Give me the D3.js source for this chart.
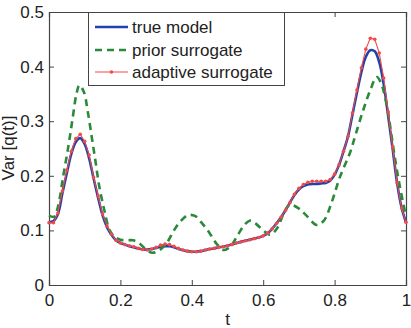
<!DOCTYPE html>
<html><head><meta charset="utf-8">
<script src="https://cdn.jsdelivr.net/npm/d3@7"></script>
<style>body{margin:0;background:#fff}svg text{font-family:"Liberation Sans",Arial,sans-serif;fill:#222}</style>
</head><body><svg id="c" width="411" height="328"></svg>
<script>
// t grid for true model & adaptive surrogate (step 0.0125, 81 points)
const tGrid = d3.range(81).map(i => i / 80);
const trueModel = [0.115,0.117,0.130,0.168,0.205,0.240,0.262,0.269,0.258,0.232,0.195,0.160,0.128,0.106,0.092,0.082,0.077,0.074,0.071,0.069,
0.067,0.065,0.065,0.066,0.068,0.070,0.071,0.071,0.069,0.066,0.064,0.062,0.061,0.061,0.062,0.064,0.066,0.067,0.069,0.070,
0.072,0.074,0.077,0.079,0.081,0.083,0.085,0.087,0.090,0.095,0.103,0.113,0.124,0.137,0.151,0.165,0.175,0.181,0.184,0.185,
0.185,0.186,0.187,0.191,0.202,0.220,0.245,0.272,0.312,0.352,0.390,0.418,0.430,0.428,0.408,0.368,0.310,0.250,0.187,0.142,0.115];
const adaptive = [0.114,0.114,0.132,0.172,0.210,0.245,0.268,0.276,0.263,0.238,0.197,0.163,0.130,0.108,0.093,0.082,0.077,0.074,0.072,0.070,
0.067,0.065,0.064,0.066,0.069,0.073,0.075,0.074,0.071,0.067,0.064,0.062,0.061,0.061,0.062,0.064,0.066,0.067,0.069,0.070,
0.072,0.074,0.077,0.079,0.081,0.083,0.085,0.087,0.090,0.095,0.103,0.113,0.124,0.137,0.151,0.166,0.177,0.184,0.188,0.190,
0.190,0.190,0.190,0.193,0.203,0.220,0.245,0.272,0.315,0.357,0.398,0.432,0.452,0.450,0.425,0.379,0.317,0.253,0.187,0.141,0.115];
const priorT = [0,0.015,0.025,0.04,0.054,0.065,0.077,0.085,0.098,0.108,0.12,0.131,0.141,0.155,0.17,0.185,0.2,0.22,0.235,0.25,
0.27,0.29,0.31,0.33,0.35,0.37,0.39,0.41,0.43,0.45,0.47,0.49,0.51,0.53,0.55,0.565,0.58,0.6,0.62,0.64,
0.66,0.675,0.7,0.72,0.75,0.77,0.79,0.815,0.843,0.86,0.88,0.9,0.918,0.93,0.947,0.964,0.98,1.0];
const priorV = [0.127,0.125,0.143,0.2,0.253,0.3,0.35,0.366,0.353,0.32,0.27,0.223,0.18,0.137,0.1,0.088,0.083,0.082,0.082,0.078,
0.066,0.059,0.064,0.077,0.1,0.118,0.128,0.126,0.112,0.095,0.075,0.064,0.072,0.093,0.112,0.118,0.112,0.1,0.092,0.105,
0.135,0.147,0.14,0.128,0.11,0.118,0.148,0.198,0.242,0.278,0.32,0.357,0.381,0.37,0.326,0.253,0.19,0.125];
const xTicks = [0,0.2,0.4,0.6,0.8,1];
const yTicks = [0,0.1,0.2,0.3,0.4,0.5];
const legendLabels = ["true model","prior surrogate","adaptive surrogate"];

const L=49,R=406,T=12,B=285;
const svg=d3.select("#c");
const x=d3.scaleLinear().domain([0,1]).range([L,R]);
const y=d3.scaleLinear().domain([0,0.5]).range([B,T]);
const fs=17, axc="#444";

const g=svg.append("g");
g.append("g").attr("transform",`translate(0,${B})`)
 .call(d3.axisBottom(x).tickValues(xTicks).tickSize(-5).tickPadding(9).tickFormat(d3.format("~g")));
g.append("g").attr("transform",`translate(0,${T})`)
 .call(d3.axisTop(x).tickValues(xTicks).tickSize(-5).tickFormat(""));
g.append("g").attr("transform",`translate(${L},0)`)
 .call(d3.axisLeft(y).tickValues(yTicks).tickSize(-5).tickPadding(5).tickFormat(d3.format("~g")));
g.append("g").attr("transform",`translate(${R},0)`)
 .call(d3.axisRight(y).tickValues(yTicks).tickSize(-5).tickFormat(""));
g.selectAll(".domain").attr("stroke",axc).attr("stroke-width",1.2);
g.selectAll(".tick line").attr("stroke",axc);
g.selectAll(".tick text").attr("font-size",fs).attr("fill","#222");

const line=(xs,ys,curve)=>d3.line().x((d,i)=>x(xs[i])).y(d=>y(d)).curve(curve)(ys);
const blue="#2142a8", green="#2a8a3a", red="#f04a4a";
svg.append("path").attr("d",line(tGrid,trueModel,d3.curveCatmullRom)).attr("fill","none").attr("stroke",blue).attr("stroke-width",2.6);
svg.append("path").attr("d",line(priorT,priorV,d3.curveCatmullRom)).attr("fill","none").attr("stroke",green).attr("stroke-width",2.6).attr("stroke-dasharray","7,5");
svg.append("path").attr("d",line(tGrid,adaptive,d3.curveLinear)).attr("fill","none").attr("stroke",red).attr("stroke-width",1.1);
svg.append("g").selectAll("circle").data(adaptive).join("circle")
 .attr("cx",(d,i)=>x(tGrid[i])).attr("cy",d=>y(d)).attr("r",1.8).attr("fill",red);

// legend
const lg=svg.append("g");
lg.append("rect").attr("x",88.5).attr("y",12.5).attr("width",196).attr("height",73).attr("fill","#fff").attr("stroke",axc).attr("stroke-width",1);
const ly=[27,50,72], lcol=[blue,green,red];
legendLabels.forEach((lab,i)=>{
  const l=lg.append("line").attr("x1",95).attr("x2",128).attr("y1",ly[i]).attr("y2",ly[i]).attr("stroke",lcol[i]);
  if(i===0) l.attr("stroke-width",2.6);
  if(i===1) l.attr("stroke-width",2.6).attr("stroke-dasharray","7,5");
  if(i===2){ l.attr("stroke-width",1.1); lg.append("circle").attr("cx",111.5).attr("cy",ly[i]).attr("r",1.8).attr("fill",red); }
  lg.append("text").attr("x",132).attr("y",ly[i]+6).attr("font-size",fs).text(lab);
});

svg.append("text").attr("x",x(0.5)).attr("y",325).attr("text-anchor","middle").attr("font-size",fs).text("t");
svg.append("text").attr("transform",`translate(14,148) rotate(-90)`).attr("text-anchor","middle").attr("font-size",fs).text("Var [q(t)]");
</script></body></html>
